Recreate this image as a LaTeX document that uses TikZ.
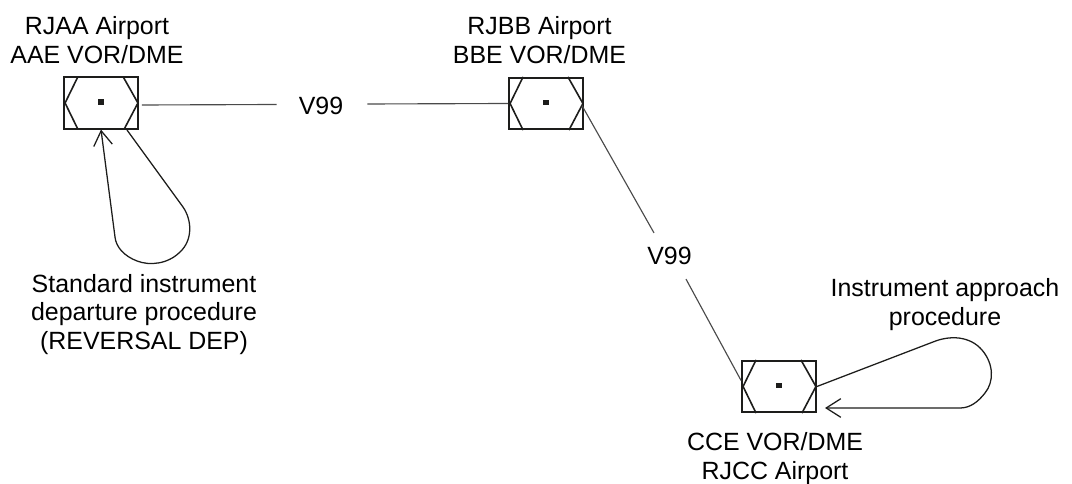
\documentclass[tikz,border=0pt]{standalone}
\usepackage{fontspec}
\setmainfont{Liberation Sans}
\usetikzlibrary{arrows.meta,calc}
\definecolor{ink}{HTML}{1D1D1B}
\definecolor{route}{HTML}{4A4A4A}
\tikzset{
  navbox/.style={draw=ink, line width=1.4pt, minimum width=55.5pt, minimum height=38.5pt, inner sep=0pt},
  hexline/.style={draw=ink, line width=1.2pt},
  navdot/.style={fill=ink, inner sep=0pt, minimum size=4pt},
  lab/.style={font=\fontsize{18.7}{21.7}\selectfont, text=black, align=center, inner sep=0pt},
  rte/.style={draw=route, line width=0.85pt},
  proc/.style={draw=ink, line width=0.95pt},
  barb/.style={-{Straight Barb[length=11pt,width=14pt,line width=0.95pt]}},
}
\begin{document}
\begin{tikzpicture}[x=0.75pt,y=-0.75pt]
    \useasboundingbox (0,0) rectangle (1072,484);
    \foreach \name/\x/\y in {aae/101/103, bbe/546/103.5, cce/779/386.5} {
      \node[navbox] (\name) at (\x,\y) {};
      \node[navdot] (\name dot) at (\x,\y-1) {};
      \draw[hexline] ($(\name.north west)+(15,0)$) -- ($(\name.west)+(2,0)$) -- ($(\name.south west)+(15,0)$);
      \draw[hexline] ($(\name.north east)+(-16,0)$) -- ($(\name.east)+(-1,0)$) -- ($(\name.south east)+(-15,0)$);
    }
    % labels
    \node[lab] (rjaa) at (97,40) {RJAA Airport\\AAE VOR/DME};
    \node[lab] (rjbb) at (539.5,40) {RJBB Airport\\BBE VOR/DME};
    \node[lab] (ccel) at (775,459) {CCE VOR/DME\\RJCC Airport};
    \node[lab] (sid) at (144,314.5) {Standard instrument\\departure procedure\\(REVERSAL DEP)};
    \node[lab] (iap) at (945,304.5) {Instrument approach\\procedure};
    \node[lab] (v1) at (321,106) {V99};
    \node[lab] (v2) at (669.5,256) {V99};
    % routes
    \draw[rte] ($(aae.east)+(3,2)$) -- ($(v1.west)+(-22,-1.5)$);
    \draw[rte] ($(v1.east)+(24,-2)$) -- (bbe.west);
    \draw[rte] ($(bbe.east)+(-2,2)$) -- ($(v2.north)+(-15.5,-14)$);
    \draw[rte] ($(v2.south)+(16.5,14)$) -- ($(cce.west)+(0,-6)$);
    % procedure turns
    \coordinate (dep0) at (127,130);
    \coordinate (dep1) at (183,207);
    \coordinate (dep2) at (115,237);
    \draw[proc, barb] (dep0) -- (dep1) .. controls (192,220) and (193,240) .. (180,252)
      .. controls (168,264) and (150,266) .. (137,261)
      .. controls (124,256) and (116,247) .. (dep2) -- (aae.south);
    \coordinate (app1) at (933,342);
    \coordinate (app2) at (960,408);
    \coordinate (app3) at (825,408);
    \draw[proc, barb] (cce.east) -- (app1) .. controls (950,335) and (970,336) .. (982,350)
      .. controls (994,364) and (994,382) .. (985,393)
      .. controls (978,402) and (970,408) .. (app2) -- (app3);
  \end{tikzpicture}
\end{document}
